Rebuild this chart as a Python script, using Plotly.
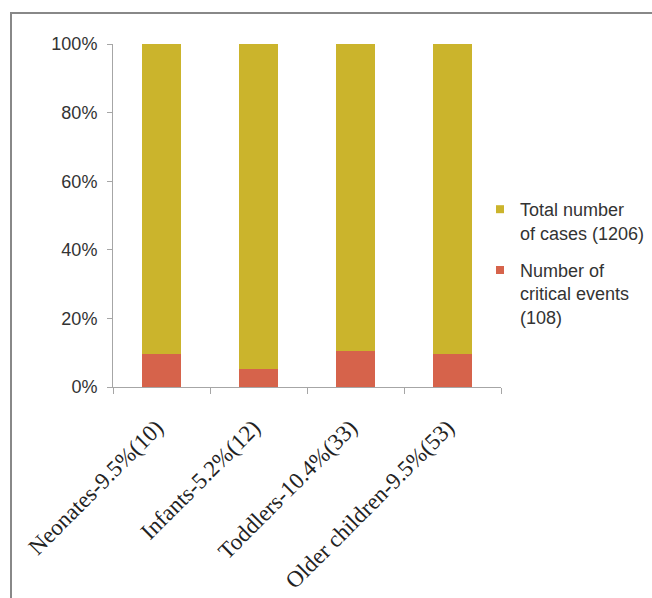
import plotly.graph_objects as go

categories = ["Neonates-9.5%(10)", "Infants-5.2%(12)", "Toddlers-10.4%(33)", "Older children-9.5%(53)"]
critical_pct = [9.5, 5.2, 10.4, 9.5]
total_pct = [100 - v for v in critical_pct]
series_names = ["Number of<br>critical events<br>(108)", "Total number<br>of cases (1206)"]
ytick_vals = [0, 0.2, 0.4, 0.6, 0.8, 1.0]

W, H = 652, 598
L, R, T, B = 113, 501, 44, 387  # plot area in px

def px_x(x):
    return (x - L) / (R - L)

def px_y(y):
    return (B - y) / (B - T)

RED = "#D6634B"
YEL = "#CBB42C"
colors = [RED, YEL]
values = [[v / 100 for v in critical_pct], [v / 100 for v in total_pct]]

fig = go.Figure()
for name, col, vals in zip(series_names, colors, values):
    fig.add_trace(go.Bar(x=categories, y=vals, name=name, showlegend=False,
                         marker=dict(color=col, line=dict(width=0))))
# legend entries (small square swatches like the original), top entry first
for name, col, grp in zip(series_names[::-1], colors[::-1], ["g1", "g2"]):
    fig.add_trace(go.Scatter(x=[None], y=[None], mode="markers", name=name, legendgroup=grp,
                             marker=dict(symbol="square", size=8, color=col)))

fig.update_layout(
    width=W, height=H,
    margin=dict(l=L, r=W - R, t=T, b=H - B, pad=0, autoexpand=False),
    barmode="stack", bargap=0.6,
    plot_bgcolor="white", paper_bgcolor="white",
    font=dict(family="Liberation Sans, Arial", size=18, color="#333333"),
    legend=dict(x=px_x(480), y=px_y(191), xanchor="left", yanchor="top",
                traceorder="grouped", tracegroupgap=11, valign="top",
                font=dict(size=18, color="#333333"), itemclick=False),
    xaxis=dict(showline=True, linecolor="#A6A6A6", linewidth=1, ticks="outside", ticklen=6,
               tickcolor="#A6A6A6", tickson="boundaries", tickangle=-45, automargin=False,
               tickfont=dict(family="Liberation Serif, Times New Roman", size=23, color="#222222"),
               ticklabelshift=-5, ticklabelstandoff=17,
               showgrid=False, zeroline=False),
    yaxis=dict(range=[0, 1], tickvals=ytick_vals, tickformat=".0%", showline=True, automargin=False,
               linecolor="#A6A6A6", linewidth=1, ticks="outside", ticklen=5, tickcolor="#A6A6A6",
               showgrid=False, zeroline=False, ticklabelstandoff=6),
    shapes=[
        dict(type="line", xref="paper", yref="paper", x0=px_x(11), x1=px_x(11), y0=px_y(13), y1=px_y(H),
             line=dict(color="#888888", width=2)),
        dict(type="line", xref="paper", yref="paper", x0=px_x(10), x1=px_x(W), y0=px_y(13), y1=px_y(13),
             line=dict(color="#888888", width=2)),
    ],
)

fig.write_html("out.html")
